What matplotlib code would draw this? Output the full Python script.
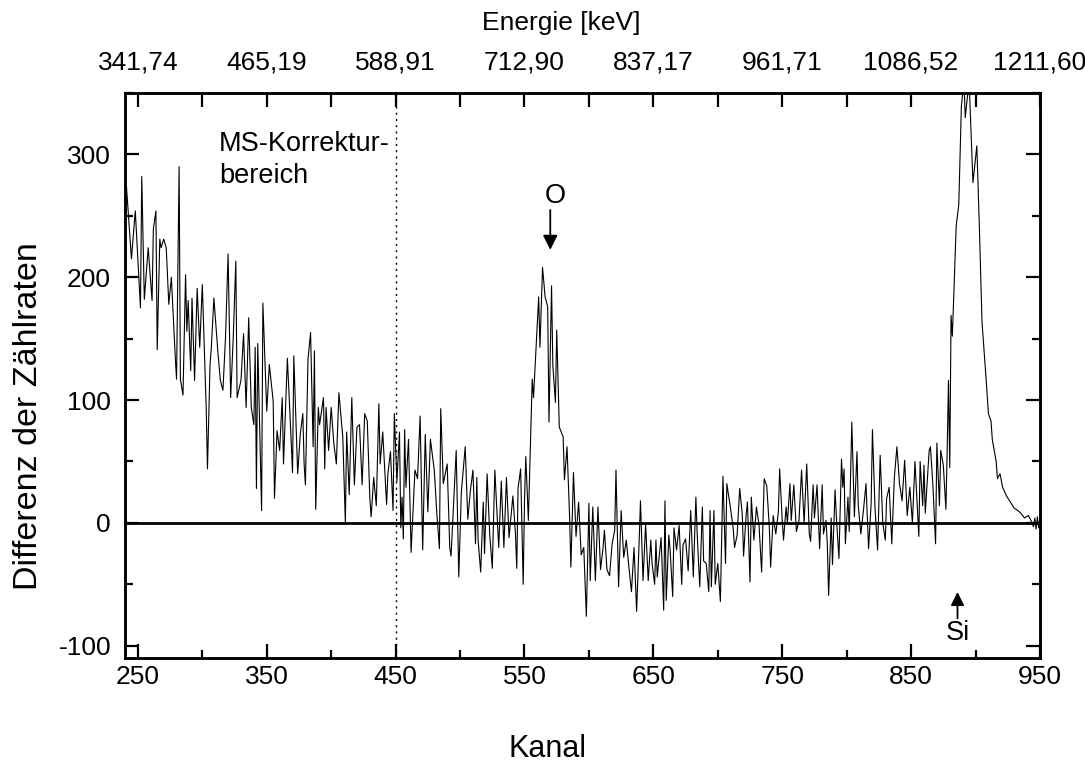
from matplotlib import pyplot as plt
from matplotlib.ticker import MultipleLocator, FixedLocator

# Differenzspektrum, Werte (Kanal, Differenz)
kanal = [
    240, 241, 245, 248, 252, 253, 255, 258, 261, 262, 264, 265, 267, 268, 270, 272, 274, 276, 279, 280,
    282, 283, 285, 287, 288, 289, 291, 292, 294, 296, 298, 300, 303, 304, 306, 307, 309, 312, 314, 316,
    318, 320, 322, 324, 326, 327, 330, 332, 334, 336, 338, 340, 341, 342, 343, 346, 347,
    350, 352, 355, 356, 358, 360, 362, 363, 366, 368, 370, 371, 374, 376, 378, 379, 380, 382, 384,
    386, 387, 388, 390, 391, 394, 395, 396, 398, 400, 402, 404, 406, 409, 411, 412, 414, 416, 418, 420,
    422, 424, 426, 428, 430, 431, 433, 435, 437, 438, 440, 443, 444, 446, 448, 449, 451,
    453, 454, 455, 456, 457, 458, 460, 462, 465, 467, 469, 471, 473, 475, 477, 480, 482, 484, 485, 487,
    490, 492, 493, 497, 499, 501, 504, 506, 508, 510, 512, 513, 514, 516, 518, 519, 521, 523, 525, 527,
    530, 532, 534, 536, 538, 541, 543, 544, 545, 547, 549, 550, 551, 553,
    556, 557, 559, 561, 562, 564, 566, 568, 569, 571, 572, 574, 575, 577, 580, 581, 583, 585, 586, 588,
    590, 592, 594, 596, 598, 600, 601, 603, 605, 607, 609, 611, 612, 614, 616, 618, 620, 621, 623, 625,
    627, 629, 631, 633, 635, 637, 639, 640, 642, 644, 646, 648,
    649, 651, 652, 653, 654, 656, 658, 659, 660, 662, 663, 665, 666, 668, 670, 672, 673, 675, 677, 679,
    681, 683, 684, 686, 688, 689, 691, 693, 694, 695, 697, 698, 700, 702, 704, 705, 706, 707, 710, 712,
    713, 715, 717, 719, 720, 722, 723, 725, 726, 728, 730, 732, 734, 736, 738, 740, 741, 743, 745, 747,
    748, 750, 751, 753, 754, 756,
    757, 759, 761, 763, 765, 767, 769, 771, 772, 774, 775, 777, 779, 781, 782, 784, 785, 786, 788, 789,
    791, 792, 794, 796, 797, 798, 799, 801, 802, 804, 806, 808, 809, 811, 813, 815, 817, 819, 820, 822,
    824, 826, 828, 830, 831, 833, 835, 837, 839, 841, 843, 845, 847, 849, 851, 853, 856,
    857, 859, 860, 861, 864, 865, 867, 869, 870, 872, 873, 875, 877, 878, 879, 880, 881, 882, 885, 887,
    889, 891, 892, 895, 898, 901, 903, 905, 908, 910, 912, 913, 916, 917, 919, 921, 924, 927, 930, 933,
    935, 938, 941, 943, 945, 946, 947, 948, 949, 950,
]
differenz = [
    277, 276, 215, 254, 175, 282, 182, 224, 181, 239, 254, 141, 231, 224, 231, 224, 178, 200, 135, 117,
    290, 117, 104, 202, 156, 181, 124, 183, 116, 191, 143, 194, 94, 44, 129, 143, 183, 140, 116, 108,
    151, 219, 102, 151, 213, 102, 116, 154, 94, 167, 94, 80, 143, 28, 146, 10, 179,
    91, 129, 99, 20, 75, 59, 102, 48, 134, 89, 41, 136, 40, 72, 89, 48, 31, 133, 155,
    62, 140, 11, 94, 80, 102, 44, 94, 59, 94, 65, 48, 106, 70, 0, 74, 23, 102, 31, 78,
    80, 31, 89, 83, 20, 5, 37, 14, 97, 48, 74, 15, 40, 58, 10, 89, 34,
    74, -4, 21, -13, 76, 29, 68, -24, 43, 36, 87, -22, 72, 9, 68, 43, 7, -21, 93, 32,
    48, -20, -27, 59, -44, 25, 62, 3, 26, 43, -17, 37, -14, -40, 17, -25, 40, -9, -37, 43,
    -20, 34, -20, 37, -12, 22, -9, -37, 28, 44, -50, 18, 54, 2,
    117, 102, 143, 184, 143, 208, 184, 176, 82, 193, 128, 98, 157, 78, 70, 35, 62, 5, -36, 41,
    -11, 17, -26, -20, -76, 16, -47, 13, -47, 13, -38, -20, -6, -38, -43, -17, -6, 43, -52, 10,
    -28, -14, -36, -56, -20, -72, -14, 18, -47, -1, -47, -14,
    -33, -50, -14, -44, -33, -12, -71, 18, -63, -10, -22, -60, -4, -22, -2, -50, -18, -13, -39, 10,
    -44, 21, -9, -52, 13, -31, -33, -56, 10, -52, 10, -50, -33, -64, 38, 2, -33, 32, 11, -5,
    -20, -10, 28, 7, -27, 7, 17, -48, 21, -14, 13, -2, -40, 36, 30, -4, -36, 6, -9, 9,
    44, 2, -14, 13, 0, 32,
    2, 31, -7, 2, 43, 0, 48, -9, -15, 31, 4, 31, -21, 31, -9, 2, -18, -59, 4, -34,
    27, 5, -29, 52, 29, 44, -17, 21, -7, 82, 5, 58, 14, -9, 10, 32, -21, 16, 76, 12,
    -22, 55, 0, -14, 20, 29, -17, 37, 62, 32, 18, 51, 6, 29, 0, 50, -11,
    50, 14, 47, 8, 59, 62, 29, -17, 65, 14, 59, 47, 11, 59, 116, 45, 169, 152, 242, 259,
    339, 360, 330, 360, 277, 307, 240, 164, 120, 89, 83, 68, 50, 36, 40, 29, 22, 17, 12, 10,
    8, 4, 6, 2, -3, 4, -5, 5, -4, 3,
]

x_ticks = [250, 350, 450, 550, 650, 750, 850, 950]
x_minor = [300, 400, 500, 600, 700, 800, 900]
energie_labels = ['341,74', '465,19', '588,91', '712,90', '837,17', '961,71', '1086,52', '1211,60']

plt.rcParams['font.family'] = ['Liberation Sans', 'DejaVu Sans']
plt.rcParams['axes.unicode_minus'] = False

fig = plt.figure(figsize=(10.85, 7.69), dpi=100)
ax = fig.add_axes([0.1152, 0.1443, 0.8433, 0.7348])

ax.plot(kanal, differenz, color='black', lw=0.8)
ax.axhline(0, color='black', lw=2.0)
ax.axvline(450, color='black', lw=1.0, ls=(0, (1.5, 3)))

ax.set_xlim(240, 950)
ax.set_ylim(-110, 350)

ax.xaxis.set_major_locator(FixedLocator(x_ticks))
ax.xaxis.set_minor_locator(FixedLocator(x_minor))
ax.yaxis.set_major_locator(MultipleLocator(100))
ax.yaxis.set_minor_locator(MultipleLocator(50))
ax.tick_params(which='major', direction='in', length=10, width=1.6,
               labelsize=19, right=True, top=False)
ax.tick_params(which='minor', direction='in', length=5.5, width=1.6, right=True, top=False)
ax.tick_params(axis='x', pad=5)
ax.tick_params(axis='y', pad=10)
for s in ax.spines.values():
    s.set_linewidth(1.8)

ax.set_xlabel('Kanal', fontsize=22)
ax.xaxis.set_label_coords(0.462, -0.135)
ax.set_ylabel('Differenz der Zählraten', fontsize=24.5)
ax.yaxis.set_label_coords(-0.088, 0.428)

# obere Achse: Energie
ax2 = ax.twiny()
ax2.set_xlim(ax.get_xlim())
ax2.xaxis.set_major_locator(FixedLocator(x_ticks))
ax2.set_xticklabels(energie_labels)
ax2.xaxis.set_minor_locator(FixedLocator(x_minor))
ax2.tick_params(which='both', direction='in', length=10, width=1.6, labelsize=19, pad=13)
ax2.set_xlabel('Energie [keV]', fontsize=19)
ax2.xaxis.set_label_coords(0.477, 1.112)
for s in ax2.spines.values():
    s.set_linewidth(1.8)

ax.text(313, 319, 'MS-Korrektur-\nbereich', fontsize=19.5, va='top', ha='left', linespacing=1.3)

ax.annotate('', xy=(570, 220), xytext=(570, 257),
            arrowprops=dict(arrowstyle='-|>', color='black', lw=1.3, mutation_scale=22))
ax.text(574, 266, 'O', fontsize=19.5, ha='center', va='center')
ax.annotate('', xy=(886, -54), xytext=(886, -80),
            arrowprops=dict(arrowstyle='-|>', color='black', lw=1.3, mutation_scale=20))
ax.text(886, -90, 'Si', fontsize=19.5, ha='center', va='center')

fig.savefig('out.png', dpi=100)
